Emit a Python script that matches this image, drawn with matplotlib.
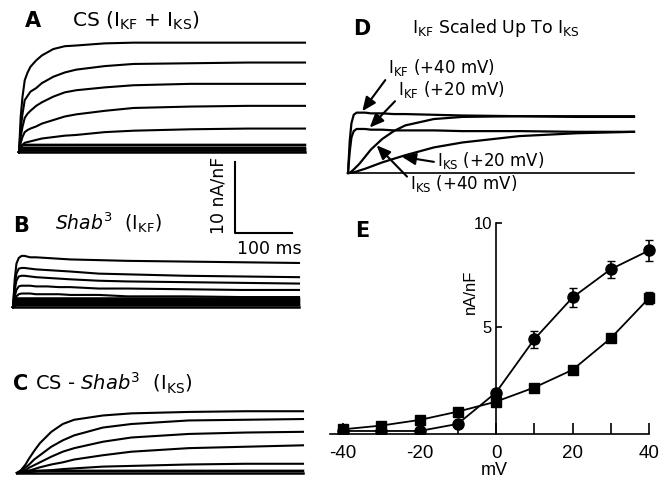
import matplotlib.pyplot as plt

plt.rcParams['font.family'] = ['Liberation Sans', 'DejaVu Sans']
plt.rcParams['mathtext.fontset'] = 'dejavusans'
plt.rcParams['mathtext.default'] = 'regular'
TXT = 'DejaVu Sans'

# sample times of the current traces (ms)
t_ms = [0, 3, 6, 10, 15, 20, 30, 40, 60, 80, 100, 150, 200, 300, 400, 500]
t_flat = [0, 6, 500]

# A: CS (IKF + IKS), nA/nF
a_traces = [
    [0, 5.0, 7.7, 10.1, 11.2, 12.0, 12.9, 13.6, 14.5, 14.9, 15.0, 15.3, 15.4, 15.4, 15.4, 15.4],
    [0, 3.3, 5.3, 7.3, 7.9, 8.5, 9.0, 9.7, 10.6, 11.2, 11.6, 12.1, 12.4, 12.5, 12.6, 12.6],
    [0, 2.2, 3.5, 4.8, 5.4, 5.8, 6.5, 7.0, 7.8, 8.4, 8.7, 9.1, 9.4, 9.6, 9.6, 9.6],
    [0, 1.3, 2.1, 2.8, 3.1, 3.3, 3.6, 4.0, 4.5, 5.0, 5.3, 5.8, 6.2, 6.4, 6.5, 6.5],
    [0, 0.7, 1.0, 1.3, 1.4, 1.5, 1.7, 1.9, 2.1, 2.3, 2.4, 2.8, 3.0, 3.2, 3.3, 3.3],
]
a_flat = [1.0, 0.6, 0.4, 0.2, 0.0]

# B: Shab3 (IKF)
b_traces = [
    [0, 3.9, 6.1, 6.9, 7.2, 7.2, 7.0, 7.0, 6.9, 6.8, 6.7, 6.6, 6.5, 6.4, 6.3, 6.2],
    [0, 3.1, 4.7, 5.4, 5.5, 5.5, 5.4, 5.3, 5.2, 5.1, 5.0, 4.7, 4.6, 4.4, 4.3, 4.2],
    [0, 2.4, 3.7, 4.3, 4.4, 4.4, 4.3, 4.2, 4.1, 4.0, 3.9, 3.7, 3.6, 3.5, 3.4, 3.3],
    [0, 1.5, 2.4, 2.9, 3.0, 3.0, 3.0, 2.9, 2.9, 2.8, 2.8, 2.6, 2.6, 2.5, 2.4, 2.4],
    [0, 1.0, 1.5, 1.8, 1.9, 1.9, 1.9, 1.8, 1.8, 1.8, 1.7, 1.7, 1.5, 1.5, 1.4, 1.4],
]
b_flat = [1.2, 0.95, 0.7, 0.45, 0.25, 0.0]

# C: CS - Shab3 (IKS)
c_traces = [
    [0, 0.1, 0.3, 0.7, 1.2, 1.9, 3.1, 4.2, 5.8, 6.9, 7.5, 8.1, 8.4, 8.6, 8.7, 8.7],
    [0, 0.05, 0.2, 0.4, 0.8, 1.1, 1.9, 2.5, 3.7, 4.6, 5.3, 6.4, 6.9, 7.4, 7.5, 7.6],
    [0, 0.03, 0.1, 0.2, 0.4, 0.7, 1.1, 1.5, 2.3, 3.0, 3.5, 4.4, 5.0, 5.5, 5.7, 5.8],
    [0, 0, 0.05, 0.1, 0.2, 0.3, 0.55, 0.8, 1.2, 1.5, 1.9, 2.5, 3.0, 3.5, 3.7, 3.9],
    [0, 0, 0, 0.05, 0.1, 0.1, 0.2, 0.3, 0.4, 0.55, 0.65, 0.9, 1.0, 1.2, 1.3, 1.3],
]
c_flat = [0.3, 0.0]

# D: IKF scaled up to IKS
d_ikf40 = [0, 4.5, 7.0, 8.2, 8.5, 8.5, 8.5, 8.4, 8.4, 8.3, 8.3, 8.2, 8.1, 8.0, 7.9, 7.9]
d_ikf20 = [0, 3.0, 5.0, 5.9, 6.2, 6.2, 6.2, 6.1, 6.1, 6.0, 6.0, 6.0, 5.9, 5.9, 5.8, 5.8]
d_iks40 = [0, 0.05, 0.2, 0.5, 0.9, 1.3, 2.3, 3.3, 4.8, 5.9, 6.7, 7.6, 7.9, 8.0, 8.0, 8.0]
d_iks20 = [0, 0, 0.05, 0.1, 0.2, 0.35, 0.6, 0.9, 1.5, 2.0, 2.5, 3.6, 4.3, 5.2, 5.6, 5.8]
d_flat = [0.0]

# E: current-voltage relation
e_mv = [-40, -30, -20, -10, 0, 10, 20, 30, 40]
e_circ = [0.0, 0.0, 0.0, 0.34, 1.85, 4.41, 6.42, 7.78, 8.68]
e_circ_err = [0.05, 0.05, 0.05, 0.1, 0.15, 0.4, 0.45, 0.4, 0.5]
e_sq = [0.08, 0.26, 0.53, 0.93, 1.41, 2.09, 2.94, 4.46, 6.39]
e_sq_err = [0.05, 0.05, 0.05, 0.1, 0.1, 0.1, 0.15, 0.2, 0.3]

W, H = 670, 479
fig = plt.figure(figsize=(W / 100, H / 100), dpi=100)


def box(left, top, right, bottom):
    return [left / W, 1 - bottom / H, (right - left) / W, (bottom - top) / H]


def trace_axes(left, top, right, bottom, t0_px, base_px, px_ms=0.572, px_unit=7.1):
    ax = fig.add_axes(box(left, top, right, bottom))
    ax.set_xlim((left - t0_px) / px_ms, (right - t0_px) / px_ms)
    ax.set_ylim((base_px - bottom) / px_unit, (base_px - top) / px_unit)
    ax.axis('off')
    return ax


def draw_traces(ax, traces, flats):
    for tr in traces:
        ax.plot(t_ms, tr, color='black', lw=1.5)
    for lv in flats:
        ax.plot(t_flat, [0, lv, lv], color='black', lw=1.8)


def label(x, y, s, size, **kw):
    fig.text(x / W, 1 - y / H, s, fontsize=size, va='baseline', family=TXT, **kw)


# panel A with scale bar
axA = trace_axes(0, 35, 330, 260, 19, 152)
draw_traces(axA, a_traces, a_flat)
sb_t, sb_y = 378, -11.4
axA.plot([sb_t, sb_t, sb_t + 100], [sb_y + 10, sb_y, sb_y], color='black', lw=1.5)
axA.text(sb_t - 30, sb_y + 5.3, '10 nA/nF', rotation=90, ha='center', va='center',
         fontsize=12.5, family=TXT)
axA.text(sb_t + 60, sb_y - 2.2, '100 ms', ha='center', va='center', fontsize=12.5, family=TXT)

axB = trace_axes(0, 250, 330, 320, 13, 307)
draw_traces(axB, b_traces, b_flat)

axC = trace_axes(0, 400, 330, 479, 17, 473)
draw_traces(axC, c_traces, c_flat)

axD = trace_axes(335, 50, 670, 200, 348, 173)
for tr in [d_ikf40, d_ikf20, d_iks40, d_iks20]:
    axD.plot(t_ms, tr, color='black', lw=1.6)
for lv in d_flat:
    axD.plot([0, 500], [lv, lv], color='black', lw=1.2)

arrow = dict(arrowstyle='-|>,head_length=0.7,head_width=0.3', color='black', lw=1.5,
             shrinkA=0, shrinkB=0)
ann = dict(fontsize=12, va='center', family=TXT)
axD.annotate('I$_{KF}$ (+40 mV)', xy=(25, 8.7), xytext=(70, 14.8),
             arrowprops=dict(arrow, relpos=(0, 0.1)), **ann)
axD.annotate('I$_{KF}$ (+20 mV)', xy=(38, 6.4), xytext=(87, 11.7),
             arrowprops=dict(arrow, relpos=(0, 0.1)), **ann)
axD.annotate('I$_{KS}$ (+20 mV)', xy=(94, 2.3), xytext=(155, 1.8),
             arrowprops=dict(arrow, relpos=(0, 0.4)), **ann)
axD.annotate('I$_{KS}$ (+40 mV)', xy=(50, 3.9), xytext=(108, -1.5),
             arrowprops=dict(arrow, relpos=(0, 0.7)), **ann)

# panel E
axE = fig.add_axes(box(329.6, 216.8, 658.6, 434.1))
axE.set_xlim(-43.5, 42.5)
axE.set_ylim(-0.15, 10.3)
axE.plot(e_mv, e_circ, color='black', lw=1.3, zorder=3)
axE.errorbar(e_mv, e_circ, yerr=e_circ_err, fmt='o', color='black', ms=8,
             capsize=3, elinewidth=1.2, zorder=4)
axE.plot(e_mv, e_sq, color='black', lw=1.3, zorder=3)
axE.errorbar(e_mv, e_sq, yerr=e_sq_err, fmt='s', color='black', ms=7.5,
             capsize=3, elinewidth=1.2, zorder=4)
axE.spines['top'].set_visible(False)
axE.spines['right'].set_visible(False)
axE.spines['left'].set_position(('data', 0))
axE.spines['left'].set_bounds(-0.15, 10)
axE.spines['bottom'].set_bounds(-43.5, 40)
for sp in axE.spines.values():
    sp.set_linewidth(1.2)
axE.set_xticks(e_mv)
axE.set_xticklabels(['-40', '', '-20', '', '0', '', '20', '', '40'])
axE.set_yticks([5, 10])
axE.tick_params(axis='x', direction='in', length=8, width=1.2, pad=8, labelsize=13.5)
axE.tick_params(axis='y', direction='in', length=4, width=1.2, pad=3, labelsize=12)
axE.set_xlabel('mV', fontsize=13, labelpad=0)
axE.text(-6.8, 6.7, 'nA/nF', rotation=90, ha='center', va='center', fontsize=12)

# panel letters and titles
label(25, 27, 'A', 15, fontweight='bold')
label(72, 27, 'CS (I$_{KF}$ + I$_{KS}$)', 14.5)
label(13, 232, 'B', 15, fontweight='bold')
label(55, 230, r'$\mathit{Shab}^{3}$  (I$_{KF}$)', 13.5)
label(13, 390, 'C', 15, fontweight='bold')
label(35, 390, r'CS - $\mathit{Shab}^{3}$  (I$_{KS}$)', 14)
label(353, 35, 'D', 15, fontweight='bold')
label(412, 33, 'I$_{KF}$ Scaled Up To I$_{KS}$', 12.5)
label(355, 237, 'E', 15, fontweight='bold')

fig.savefig('out.png', dpi=100)
